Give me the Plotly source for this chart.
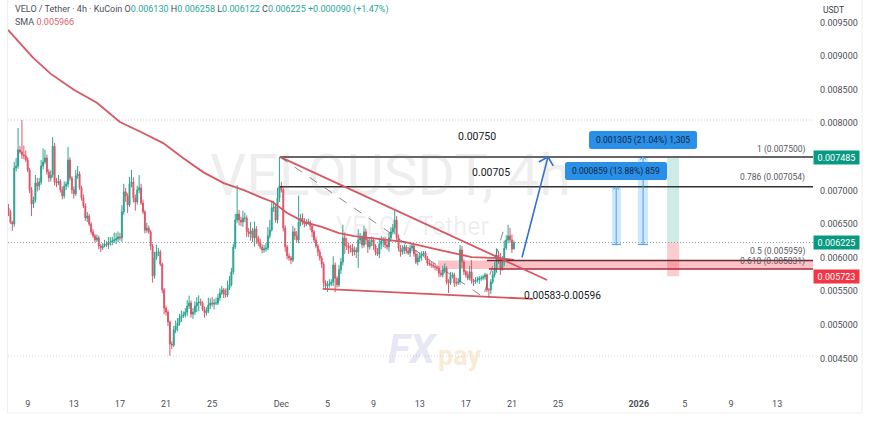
import datetime as dt
import plotly.graph_objects as go

# ---- candle data (micro USDT) ----
first_bar = dt.datetime(2025, 11, 7, 8, 0)
first_open = 6740
closes = [
 6680,6530,6500,7335,7365,7605,7575,7530,7515,7455,
 7305,7010,6800,6860,7110,7065,7125,7365,7425,7485,
 7275,7185,7230,7660,7125,7110,7140,7010,6920,7065,
 7095,7455,7185,7010,6950,7215,7245,7040,6890,6770,
 6590,6620,6500,6385,6325,6265,6295,6175,6145,6175,
 6205,6190,6220,6235,6250,6265,6280,6310,6295,6680,
 6980,6920,6785,7095,7125,6890,6830,7010,7040,6815,
 6680,6410,6440,6385,6175,5730,6000,6085,6085,5905,
 5520,5250,5190,5045,4715,4700,4925,4985,5030,5105,
 5135,5150,5190,5280,5325,5160,5190,5280,5325,5340,
 5325,5235,5180,5205,5295,5325,5310,5325,5325,5400,
 5475,5520,5460,5445,5550,5595,5790,6160,6560,6650,
 6560,6530,6590,6590,6385,6355,6400,6295,6430,6295,
 6235,6160,6115,6130,6145,6325,6410,6740,6755,6560,
 6890,7065,7010,6440,6160,6025,5995,5965,6385,6325,
 6265,6530,6590,6530,6500,6530,6530,6470,6385,6265,
 6175,6085,5995,5905,5625,5580,5595,5610,5640,5890,
 5695,5595,5820,5935,6295,6175,6175,6145,6145,6085,
 6115,6085,6265,6295,6190,6385,6265,6160,6235,6265,
 6175,6085,6055,6205,6250,6265,6190,6160,6295,6385,
 6440,6560,6295,6145,6085,6115,6160,6100,6070,6145,
 6175,6055,5935,5995,6025,6055,6070,5995,5920,5905,
 5890,5875,5860,5845,5770,5745,5820,5845,5640,5625,
 5730,5745,5625,5625,5640,6115,5935,5790,5745,5695,
 5790,5655,5640,5670,5670,5695,5695,5715,5745,5520,
 5520,5640,5745,5845,6040,6000,5845,5935,6145,6265,
 6325,6265,6130,6225]
upper_wicks = [
 60,30,20,90,120,325,60,474,140,80,
 40,30,40,50,120,80,60,90,200,120,
 50,40,70,135,50,60,90,30,50,70,
 40,195,40,30,50,90,120,40,30,50,
 40,60,30,30,40,30,50,30,30,40,
 60,40,90,70,60,110,90,80,60,100,
 120,60,40,110,180,70,50,60,190,60,
 50,30,80,40,30,30,90,110,60,30,
 20,30,40,30,20,40,60,80,70,60,
 80,50,60,90,110,40,60,70,90,100,
 50,30,40,60,110,70,90,60,80,60,
 70,60,30,80,110,130,60,50,90,430,
 60,50,110,80,40,60,130,40,110,40,
 30,50,40,60,70,130,150,110,90,50,
 150,435,60,30,40,30,40,30,90,60,
 70,395,60,70,60,40,50,30,40,30,
 50,30,40,30,30,40,60,70,40,130,
 40,30,70,60,195,80,120,50,40,60,
 50,40,160,70,40,90,50,40,60,50,
 40,30,60,90,70,40,50,60,80,70,
 60,150,60,50,40,70,40,30,60,50,
 40,30,60,70,50,40,30,30,30,40,
 30,30,40,30,30,50,60,70,30,40,
 60,40,30,80,60,75,60,40,30,60,
 90,175,30,40,50,30,40,30,30,20,
 30,40,60,90,100,60,70,90,110,70,
 165,120,80,33]
lower_wicks = [
 60,30,100,40,50,40,30,60,50,30,
 30,50,180,60,40,80,60,40,50,30,
 40,60,50,40,50,60,30,40,50,40,
 60,50,40,60,70,30,40,30,40,30,
 40,60,30,40,30,40,30,50,60,30,
 20,30,60,40,50,30,60,50,40,60,
 40,90,120,30,50,70,130,40,50,30,
 30,50,40,30,60,100,40,30,60,30,
 50,90,50,60,175,60,30,50,80,40,
 60,30,40,60,40,50,70,40,90,120,
 40,30,70,40,30,60,40,80,30,30,
 40,30,60,40,30,30,20,40,30,40,
 80,60,70,60,80,50,100,60,130,90,
 60,30,50,40,40,30,40,20,60,40,
 50,60,40,50,70,50,40,60,30,60,
 40,50,60,40,50,30,40,60,80,40,
 30,60,40,60,70,60,90,40,30,60,
 210,40,30,60,50,120,60,90,70,60,
 50,90,235,60,50,40,70,90,40,60,
 60,50,30,60,80,90,50,40,70,60,
 40,90,60,50,70,40,60,40,30,60,
 50,40,30,50,60,70,40,30,40,30,
 40,30,50,40,60,30,40,50,40,150,
 30,40,60,50,30,40,90,50,40,30,
 30,40,60,30,40,60,40,30,40,30,
 120,60,30,40,70,90,100,40,60,30,
 50,40,60,8]

sma_dates = ["2025-11-07 07:00","2025-11-08 08:00","2025-11-09 10:00","2025-11-11 00:00","2025-11-13 00:00",
 "2025-11-15 00:00","2025-11-17 00:00","2025-11-19 00:00","2025-11-20 18:00","2025-11-22 12:00","2025-11-24 06:00",
 "2025-11-26 00:00","2025-11-27 18:00","2025-11-29 08:00","2025-11-30 06:00","2025-12-01 12:00","2025-12-03 00:00",
 "2025-12-04 12:00","2025-12-06 00:00","2025-12-07 08:00","2025-12-08 20:00","2025-12-11 16:00","2025-12-14 16:00",
 "2025-12-17 12:00","2025-12-19 20:00","2025-12-21 04:00"]
sma_values = [9390,9195,8985,8735,8500,8305,8020,7855,7705,7480,7270,7110,7005,6890,6830,6665,6530,
 6460,6365,6320,6290,6235,6115,6010,5995,5966]

fib_levels = [7500, 7054, 5959, 5831]
fib_starts = ["2025-11-30 21:00","2025-11-30 21:00","2025-12-18 20:00","2025-12-19 00:00"]
fib_labels = ["1 (0.007500)","0.786 (0.007054)","0.5 (0.005959)","0.618 (0.005831)"]
axis_end = "2026-01-16 02:40"
axis_start = "2025-11-07 07:00"

tick_dates = ["2025-11-09","2025-11-13","2025-11-17","2025-11-21","2025-11-25","2025-12-01","2025-12-05",
 "2025-12-09","2025-12-13","2025-12-17","2025-12-21","2025-12-25","2026-01-01","2026-01-05","2026-01-09","2026-01-13"]
tick_text = ["9","13","17","21","25","Dec","5","9","13","17","21","25","<b>2026</b>","5","9","13"]
price_ticks = [4500,5000,5500,6000,6500,7000,8000,8500,9000,9500]

U = 1e-6
opens = [first_open] + closes[:-1]
assert len(closes) == len(upper_wicks) == len(lower_wicks) == 264, (len(closes), len(upper_wicks), len(lower_wicks))
highs = [(max(o, c) + w) * U for o, c, w in zip(opens, closes, upper_wicks)]
lows = [(min(o, c) - w) * U for o, c, w in zip(opens, closes, lower_wicks)]
times = [first_bar + dt.timedelta(hours=4 * i) for i in range(len(closes))]

PL, PR, PH = 8, 813, 395
def px(x): return (x - PL) / (PR - PL)
def py(y): return 1 - y / PH

fig = go.Figure()

def seg(xs, ys, color, width=1.3, dash="solid"):
    fig.add_trace(go.Scatter(x=xs, y=[v * U for v in ys], mode="lines", hoverinfo="skip",
                             line=dict(color=color, width=width, dash=dash), showlegend=False))

def band(x0, x1, y0, y1, color):
    fig.add_shape(type="rect", x0=x0, x1=x1, y0=y0 * U, y1=y1 * U, fillcolor=color, line_width=0, layer="below")

# fill zones
band("2025-12-14 14:00", axis_end, 5831, 5959, "rgba(242,54,69,0.30)")
band("2025-12-29 16:00", "2025-12-30 11:00", 6195, 7054, "rgba(33,150,243,0.22)")
band("2025-12-31 22:00", "2026-01-01 19:00", 6195, 7500, "rgba(33,150,243,0.22)")
band("2026-01-03 11:00", "2026-01-04 12:00", 6225, 7485, "rgba(8,153,129,0.20)")
band("2026-01-03 11:00", "2026-01-04 12:00", 5723, 6225, "rgba(242,54,69,0.25)")

# dotted price lines
seg([axis_start, axis_end], [8049, 8049], "#c4c6cc", 0.8, "1px,2px")
seg([axis_start, axis_end], [6225, 6225], "#8a8d96", 0.9, "1px,2px")
seg([axis_start, axis_end], [4537, 4537], "#c4c6cc", 0.8, "1px,2px")

fig.add_trace(go.Candlestick(
    x=times, open=[v * U for v in opens], high=highs, low=lows, close=[v * U for v in closes],
    increasing=dict(line=dict(color="#2aa58f", width=1), fillcolor="#1f9d87"),
    decreasing=dict(line=dict(color="#e0566a", width=1), fillcolor="#d8404f"),
    whiskerwidth=0, showlegend=False, hoverinfo="skip"))

seg(sma_dates, sma_values, "#d95663", 1.8)

# drawings
for lvl, start, col in zip(fib_levels, fib_starts, ["#333333", "#333333", "#6b2b33", "#a82c3c"]):
    seg([start, axis_end], [lvl, lvl], col, 1.5)
seg(["2025-11-30 21:00", "2025-12-24 01:00"], [7500, 5669], "#d95663", 1.8)
seg(["2025-12-04 14:00", "2025-12-22 20:00"], [5535, 5386], "#d95663", 1.8)
seg(["2025-11-30 21:00", "2025-12-18 12:00", "2025-12-20 10:00"], [7500, 5415, 6490], "#666a72", 0.8, "dash")
seg(["2025-12-21 21:00", "2025-12-24 03:00"], [6005, 7500], "#2f6fd0", 1.6)
seg(["2025-12-23 08:00", "2025-12-24 03:00", "2025-12-24 14:00"], [7425, 7500, 7365], "#2f6fd0", 1.6)
# measure tools
seg(["2025-12-29 16:00", "2025-12-30 11:00"], [6195, 6195], "#4a9ee8", 1)
seg(["2025-12-30 01:00", "2025-12-30 01:00"], [6195, 7054], "#4a9ee8", 1)
seg(["2025-12-29 19:00", "2025-12-30 01:00", "2025-12-30 07:00"], [7015, 7054, 7015], "#4a9ee8", 1)
seg(["2025-12-31 22:00", "2026-01-01 19:00"], [6195, 6195], "#4a9ee8", 1)
seg(["2026-01-01 09:00", "2026-01-01 09:00"], [6195, 7500], "#4a9ee8", 1)
seg(["2026-01-01 03:00", "2026-01-01 09:00", "2026-01-01 15:00"], [7460, 7500, 7460], "#4a9ee8", 1)

def rounded(x0, y0, x1, y1, r, color):
    a, b, c, d = px(x0), py(y0), px(x1), py(y1)
    rx, ry = r / (PR - PL), r / PH
    path = (f"M {a+rx} {b} L {c-rx} {b} Q {c} {b} {c} {b-ry} L {c} {d+ry} Q {c} {d} {c-rx} {d} "
            f"L {a+rx} {d} Q {a} {d} {a} {d+ry} L {a} {b-ry} Q {a} {b} {a+rx} {b} Z")
    fig.add_shape(type="path", path=path, xref="paper", yref="paper", fillcolor=color, line_width=0)

rounded(565, 162, 667, 180, 2.5, "#2a8fe6")
rounded(589, 131, 697, 149, 2.5, "#2a8fe6")

# frame lines of the widget
for x0, y0, x1, y1 in [(7.5, 0, 7.5, 413), (862, 0, 862, 413), (7.5, 413, 862, 413)]:
    fig.add_shape(type="line", xref="paper", yref="paper", x0=px(x0), y0=py(y0), x1=px(x1), y1=py(y1),
                  line=dict(color="#efeff1", width=1))

FONT = "Roboto, Arial, sans-serif"
def text(x, y, s, size=9, color="#4c4f57", anchor="left", **kw):
    fig.add_annotation(xref="paper", yref="paper", x=px(x), y=py(y), text=s, showarrow=False,
                       xanchor=anchor, yanchor="middle", align=anchor,
                       font=dict(size=size, color=color, family=kw.pop("family", FONT)), **kw)

# watermarks
text(390, 176, "VELOUSDT, 4h", 57, "rgba(120,123,134,0.13)", "center")
text(412, 227, "VELO / Tether", 25, "rgba(120,123,134,0.13)", "center")
text(386, 349, "<b><i>FX</i></b>", 41, "rgba(170,170,225,0.30)", "left")
text(436, 356, "<b>pay</b>", 27, "rgba(240,205,150,0.40)", "left")

# chart legend
g = "#26a69a"
text(13, 9, f"VELO / Tether · 4h · KuCoin O<span style='color:{g}'>0.006130</span> H<span style='color:{g}'>0.006258</span>"
            f" L<span style='color:{g}'>0.006122</span> C<span style='color:{g}'>0.006225</span>"
            f" <span style='color:{g}'>+0.000090 (+1.47%)</span>", 9)
text(13, 22, "SMA <span style='color:#e0606e'>0.005966</span>", 9)

# drawing labels
text(477, 136, "0.00750", 10.5, "#16181d", "center")
text(491, 172, "0.00705", 10.5, "#16181d", "center")
text(522, 295, "0.00583-0.00596", 10.2, "#16181d", "left")
text(616, 171, "0.000859 (13.88%) 859", 8.5, "#12263f", "center")
text(643, 140, "0.001305 (21.04%) 1,305", 8.5, "#12263f", "center")
for label, y in zip(fib_labels, [149, 178, 252, 261]):
    text(807, y, label, 8.5, "#55585f", "right")

# price axis tags
for val, col in [(7485, "#089981"), (6225, "#089981"), (5723, "#f23645")]:
    fig.add_annotation(xref="paper", yref="y", x=px(813.5), y=val * U, text=f"{val * U:.6f}", showarrow=False,
                       xanchor="left", yanchor="middle", bgcolor=col, width=43, height=11, borderpad=1,
                       font=dict(size=9, color="white", family=FONT))
text(833, 10, "USDT", 8.5, "#3c3f46", "center")

fig.update_layout(
    width=870, height=421, margin=dict(l=PL, r=870 - PR, t=0, b=421 - PH),
    paper_bgcolor="white", plot_bgcolor="white", showlegend=False, font=dict(family=FONT),
    xaxis=dict(type="date", range=[axis_start, axis_end], showgrid=False, zeroline=False, showline=False,
               rangeslider=dict(visible=False), tickmode="array", tickvals=tick_dates, ticktext=tick_text,
               ticks="", tickangle=0, ticklabelstandoff=2, tickfont=dict(size=9, color="#4c4f57")),
    yaxis=dict(side="right", range=[3957 * U, 9834.7 * U], showgrid=False, zeroline=False, showline=False,
               tickmode="array", tickvals=[v * U for v in price_ticks], ticktext=[f"{v * U:.6f}" for v in price_ticks],
               ticks="", ticklabelstandoff=6, tickfont=dict(size=9, color="#4c4f57")),
)
fig.write_html("out.html", config={"displayModeBar": False}, post_script="document.body.style.margin='0';")
